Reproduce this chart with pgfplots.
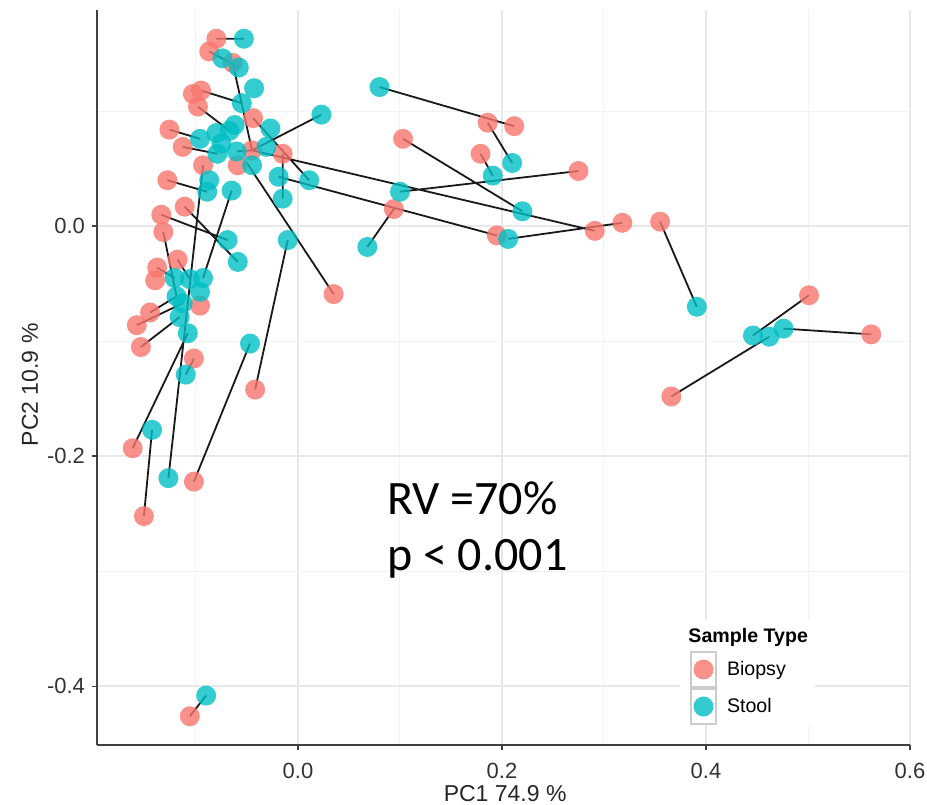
\documentclass[border=0pt]{standalone}
\usepackage{pgfplots}
\pgfplotsset{compat=1.18}
\usepackage{pgfplotstable}
\usepackage{fontspec}
\setmainfont{Liberation Sans}
\newfontfamily\calibri{Carlito}
\definecolor{biopsy}{HTML}{F8766D}
\definecolor{stool}{HTML}{00BFC4}

% PC1 / PC2 scores, biopsy samples
\pgfplotstableread{
x y
-0.080 0.163
-0.087 0.152
-0.064 0.142
-0.095 0.118
-0.103 0.115
-0.098 0.104
-0.044 0.094
-0.126 0.084
-0.113 0.069
-0.093 0.053
-0.059 0.053
-0.015 0.063
-0.128 0.040
-0.111 0.017
-0.134 0.010
-0.132 -0.005
-0.118 -0.029
-0.138 -0.036
-0.140 -0.047
-0.096 -0.069
-0.145 -0.075
-0.158 -0.086
-0.154 -0.105
-0.102 -0.115
-0.162 -0.193
-0.151 -0.252
-0.102 -0.222
-0.042 -0.142
0.035 -0.059
-0.106 -0.426
0.103 0.076
0.179 0.063
0.186 0.090
0.212 0.087
0.275 0.048
0.094 0.015
0.195 -0.008
0.291 -0.004
0.318 0.003
0.355 0.004
0.501 -0.060
0.562 -0.094
0.366 -0.148
-0.045 0.066
}\biopsytab

% stool samples
\pgfplotstableread{
x y
-0.053 0.163
-0.074 0.146
-0.058 0.138
-0.043 0.120
-0.055 0.107
-0.027 0.085
-0.096 0.076
-0.080 0.081
-0.075 0.072
-0.067 0.083
-0.062 0.088
-0.060 0.065
-0.079 0.063
-0.087 0.040
-0.089 0.030
-0.065 0.031
-0.045 0.053
-0.031 0.069
-0.019 0.043
-0.015 0.024
0.023 0.097
-0.069 -0.012
-0.059 -0.031
-0.010 -0.012
-0.121 -0.045
-0.093 -0.045
-0.119 -0.061
-0.113 -0.067
-0.116 -0.079
-0.108 -0.093
-0.110 -0.129
-0.047 -0.102
-0.143 -0.177
-0.127 -0.219
-0.090 -0.408
0.080 0.121
0.210 0.055
0.191 0.044
0.220 0.013
0.100 0.030
0.068 -0.018
0.206 -0.011
0.391 -0.070
0.446 -0.095
0.462 -0.096
0.476 -0.089
0.011 0.040
-0.096 -0.057
-0.106 -0.046
}\stooltab

% paired samples, one segment per pair
\pgfplotstableread{
x y
0.080 0.121
0.212 0.087
nan nan
0.186 0.090
0.210 0.055
nan nan
0.103 0.076
0.220 0.013
nan nan
0.179 0.063
0.191 0.044
nan nan
0.275 0.048
0.100 0.030
nan nan
0.094 0.015
0.068 -0.018
nan nan
0.206 -0.011
0.318 0.003
nan nan
0.355 0.004
0.391 -0.070
nan nan
0.501 -0.060
0.446 -0.095
nan nan
0.366 -0.148
0.462 -0.096
nan nan
0.562 -0.094
0.476 -0.089
nan nan
-0.106 -0.426
-0.090 -0.408
nan nan
-0.045 0.066
0.291 -0.004
nan nan
-0.019 0.043
0.195 -0.008
nan nan
-0.015 0.063
-0.015 0.024
nan nan
-0.044 0.094
0.011 0.040
nan nan
0.023 0.097
-0.045 0.066
nan nan
-0.064 0.142
-0.045 0.066
nan nan
-0.087 0.152
-0.058 0.138
nan nan
-0.095 0.118
-0.055 0.107
nan nan
-0.098 0.104
-0.067 0.083
nan nan
-0.126 0.084
-0.096 0.076
nan nan
-0.113 0.069
-0.079 0.063
nan nan
-0.128 0.040
-0.089 0.030
nan nan
-0.093 0.053
-0.127 -0.219
nan nan
-0.060 0.065
-0.045 0.066
nan nan
-0.065 0.031
-0.093 -0.045
nan nan
-0.111 0.017
-0.059 -0.031
nan nan
-0.134 0.010
-0.069 -0.012
nan nan
-0.132 -0.005
-0.119 -0.061
nan nan
-0.138 -0.036
-0.121 -0.045
nan nan
-0.118 -0.029
-0.106 -0.046
nan nan
-0.145 -0.075
-0.119 -0.061
nan nan
-0.158 -0.086
-0.113 -0.067
nan nan
-0.154 -0.105
-0.116 -0.079
nan nan
-0.102 -0.115
-0.110 -0.129
nan nan
-0.108 -0.093
-0.162 -0.193
nan nan
-0.143 -0.177
-0.151 -0.252
nan nan
-0.047 -0.102
-0.102 -0.222
nan nan
-0.042 -0.142
-0.010 -0.012
nan nan
0.035 -0.059
-0.050 0.055
nan nan
-0.080 0.163
-0.053 0.163
}\pairtab

\begin{document}
\begin{tikzpicture}
\useasboundingbox (-48.5pt,-29.5pt) rectangle (415pt,372.5pt);
\begin{axis}[
  scale only axis, width=406.5pt, height=367.5pt,
  xmin=-0.197, xmax=0.6, ymin=-0.451, ymax=0.188,
  axis x line*=bottom, axis y line*=left,
  axis line style={black!75, line width=0.8pt},
  xtick={0,0.2,0.4,0.6}, ytick={-0.4,-0.2,0},
  minor xtick={-0.1,0.1,0.3,0.5}, minor ytick={-0.3,-0.1,0.1},
  grid=both,
  major grid style={black!9, line width=0.9pt},
  minor grid style={black!5, line width=0.5pt},
  tick align=outside, major tick length=2.5pt, minor tick length=0pt,
  tick style={black!75, line width=0.8pt},
  /pgf/number format/assume math mode=true,
  xticklabel style={/pgf/number format/fixed, /pgf/number format/fixed zerofill, /pgf/number format/precision=1, yshift=-3pt},
  yticklabel style={/pgf/number format/fixed, /pgf/number format/fixed zerofill, /pgf/number format/precision=1},
  ticklabel style={font=\fontsize{11}{13}\selectfont, text=black!80},
  xlabel={PC1 74.9 \%}, ylabel={PC2 10.9 \%},
  label style={font=\fontsize{11.5}{14}\selectfont, text=black!85},
  xlabel style={at={(axis description cs:0.502,-0.0667)}, anchor=center},
  ylabel style={at={(axis description cs:-0.0824,0.49)}, anchor=center},
  legend style={at={(axis description cs:0.7294,0.1279)}, anchor=north west,
    draw=none, fill=none, inner sep=0pt, outer sep=0pt, row sep=0pt, column sep=5pt,
    nodes={inner sep=0pt}, font=\fontsize{9.8}{12}\selectfont},
  legend cell align=left,
  legend image code/.code={
    \draw[black!20, line width=1pt, fill=white] (0pt,-8.75pt) rectangle (12.5pt,8.75pt);
    \draw[mark repeat=2, mark phase=2, #1] plot coordinates {(0pt,0pt) (6.25pt,0pt) (12.5pt,0pt)};
  },
]
\fill[white] (axis description cs:0.717,0.170) rectangle (axis description cs:0.883,0.027);

\addplot[only marks, mark=*, mark size=5pt, color=biopsy,
  mark options={fill=biopsy, draw opacity=0, fill opacity=0.8}] table {\biopsytab};
\addlegendentry{Biopsy}
\addplot[only marks, mark=*, mark size=5pt, color=stool,
  mark options={fill=stool, draw opacity=0, fill opacity=0.8}] table {\stooltab};
\addlegendentry{Stool}
\addplot[forget plot, black!90, line width=0.9pt, unbounded coords=jump] table {\pairtab};

\node[anchor=base west, inner sep=0pt, font=\calibri\fontsize{24}{29}\selectfont] at (axis cs:0.087,-0.251) {RV =70\%};
\node[anchor=base west, inner sep=0pt, font=\calibri\fontsize{24}{29}\selectfont] at (axis cs:0.087,-0.299) {p < 0.001};
\node[anchor=base west, inner sep=0pt, font=\bfseries\fontsize{9.8}{12}\selectfont] at (axis description cs:0.727,0.139) {Sample Type};
\end{axis}
\end{tikzpicture}
\end{document}
